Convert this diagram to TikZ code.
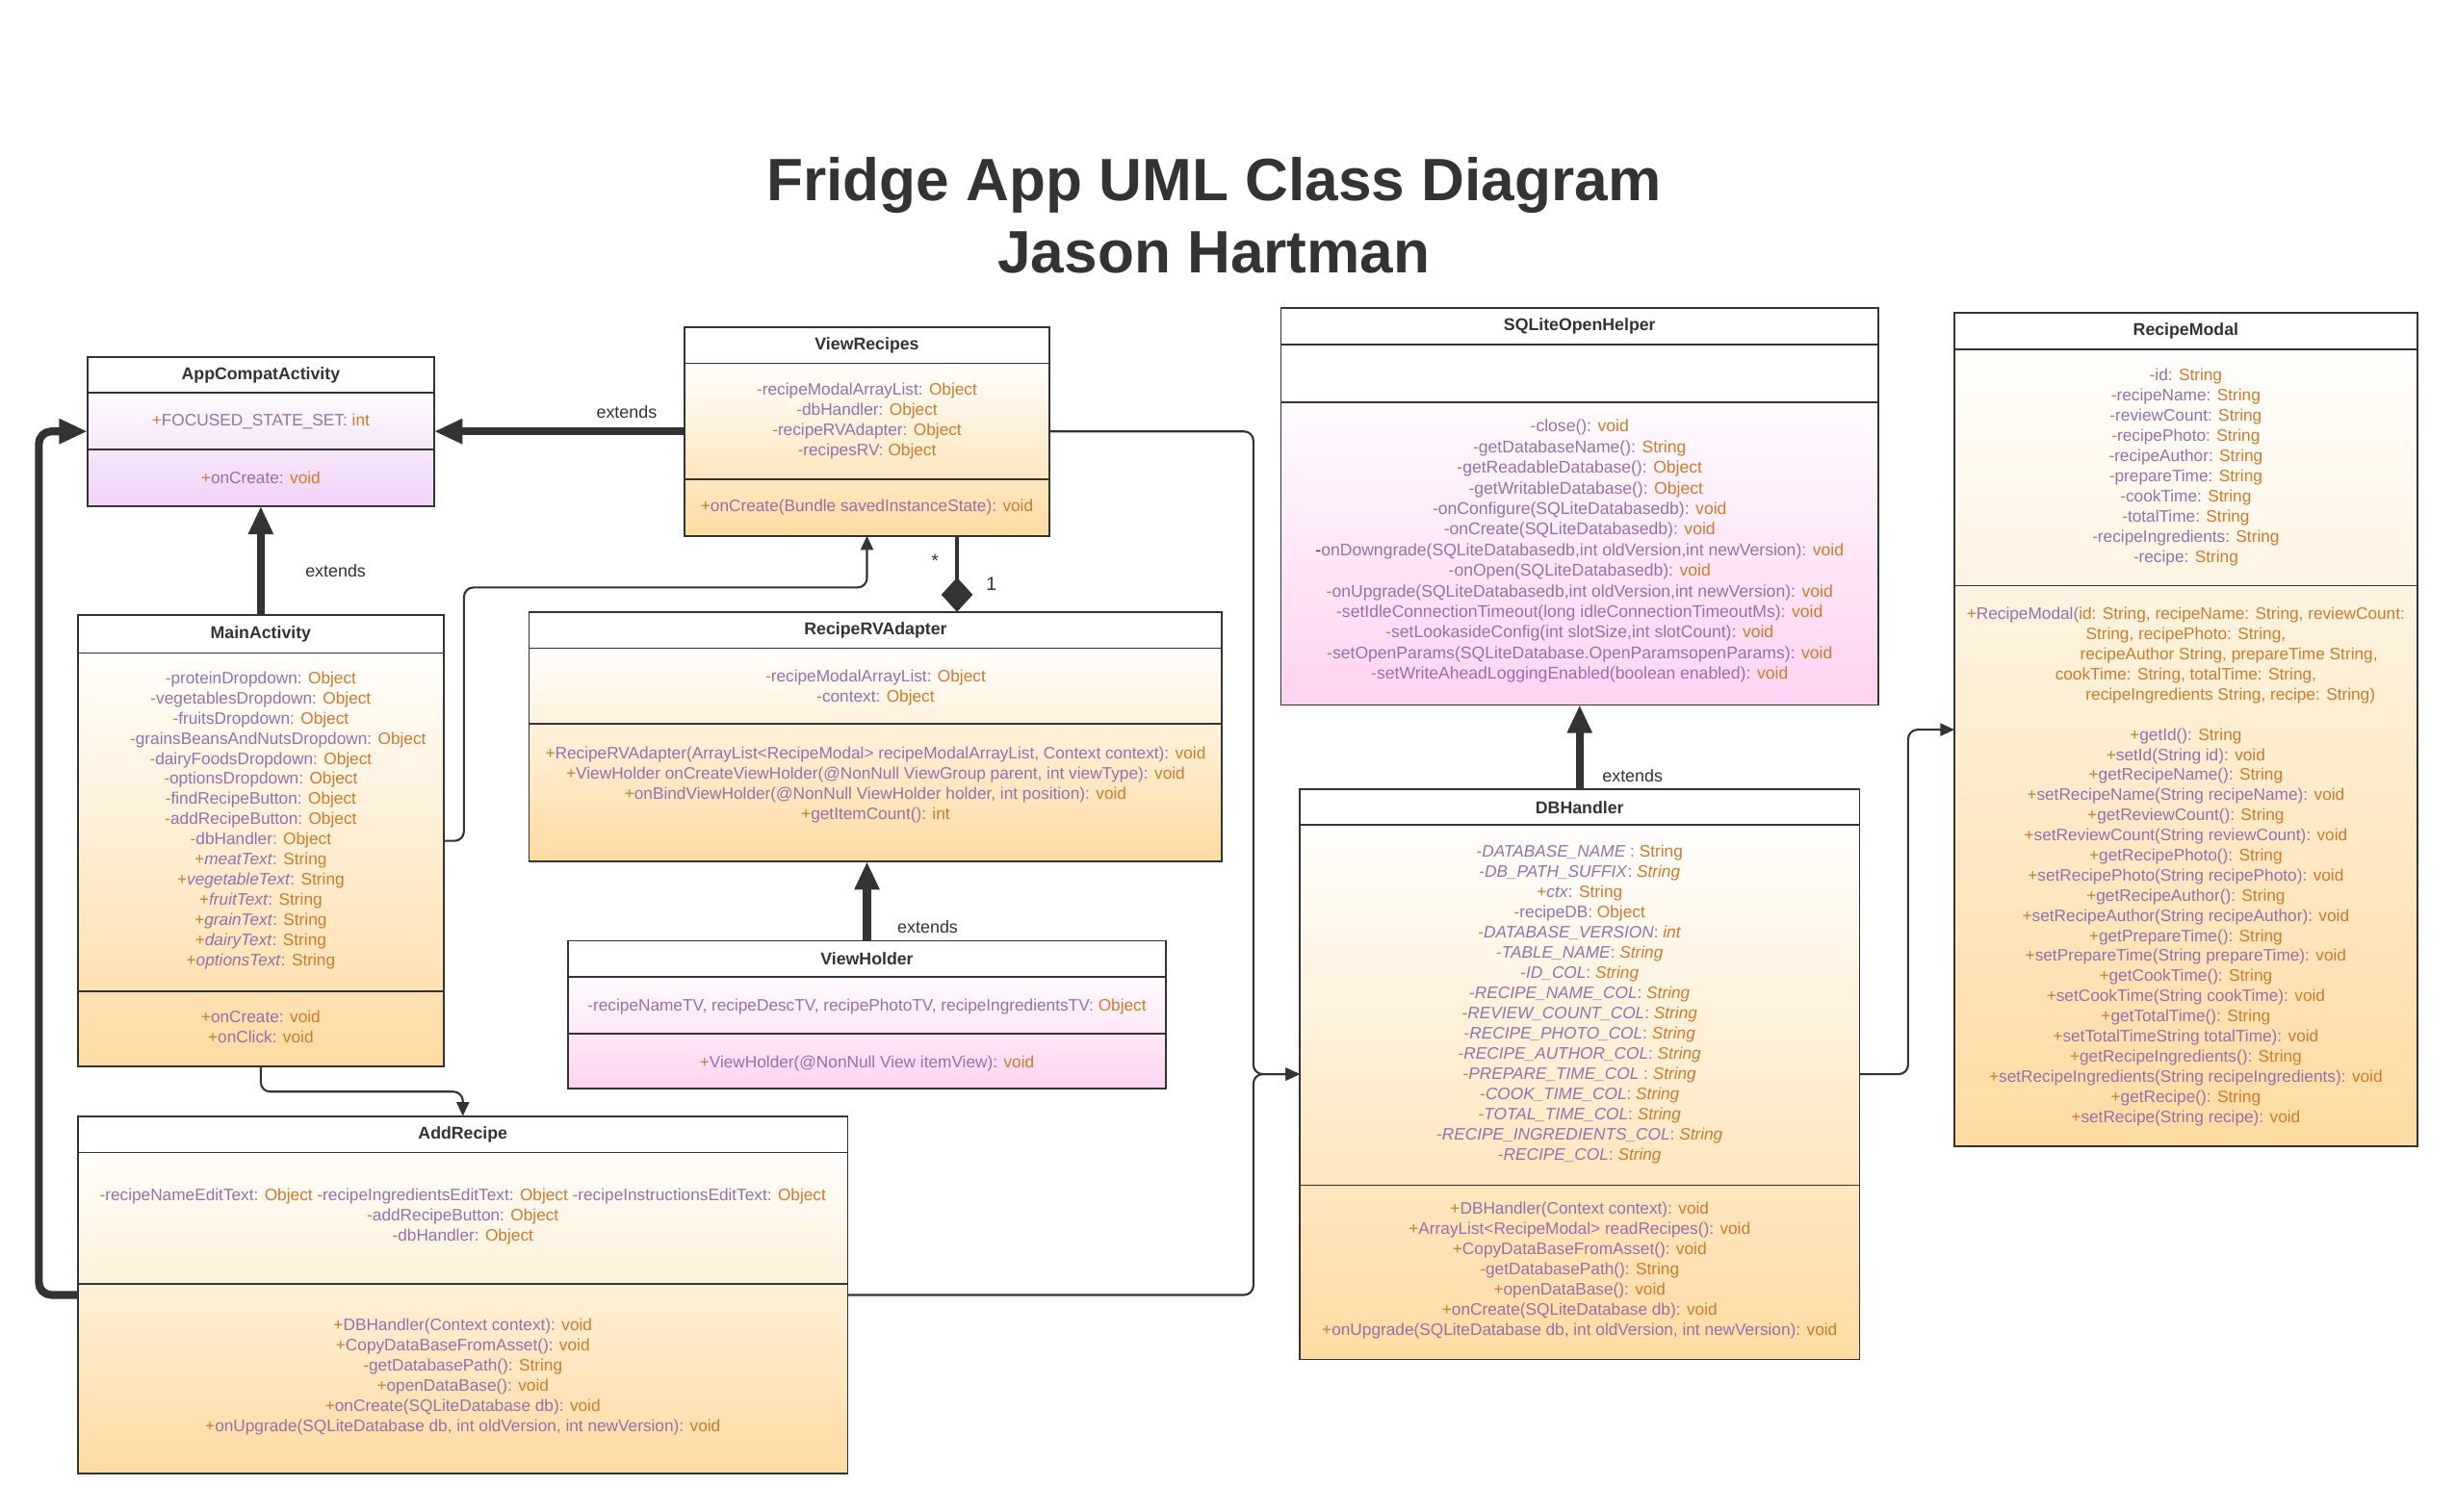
\documentclass[tikz,border=0pt]{standalone}
\usepackage{fontspec}
\setmainfont{Liberation Sans}
\usetikzlibrary{arrows.meta,fit}
\definecolor{ink}{HTML}{333333}
\definecolor{pur}{HTML}{9670A8}
\definecolor{org}{HTML}{CF7A2C}
\definecolor{orT}{HTML}{FFFEFC}
\definecolor{orB}{HTML}{FDDBA2}
\definecolor{pkT}{HTML}{FFFBFE}
\definecolor{pkB}{HTML}{FDD3F2}
\definecolor{lvT}{HTML}{FEFBFF}
\definecolor{lvB}{HTML}{EFD3F7}
\newcommand\M[3]{{\color{org}#1}{\color{pur}#2: }{\color{org}#3}}
% id, x1, y1, x2, y2, sep1, sep2
\newcommand\cls[7]{%
  \node[fit={(#2,#3) (#4,#5)}, inner sep=0pt] (#1) {};
  \draw[boxline] (#2,#6) -- (#4,#6) (#2,#7) -- (#4,#7);
  \draw[boxline] (#1.north west) rectangle (#1.south east);
}
\begin{document}
\begin{tikzpicture}[x=1pt, y=-1pt,
  boxline/.style={draw=ink, line width=1.1pt},
  ctitle/.style={font=\fontsize{10.9}{13}\selectfont\bfseries, text=ink, inner sep=0pt},
  mem/.style={font=\fontsize{10.6}{12.9}\selectfont, align=center, inner sep=0pt},
  lbl/.style={font=\fontsize{11}{13}\selectfont, text=ink, inner sep=0pt},
  thickarrow/.style={draw=ink, line width=5pt, rounded corners=8pt, -{Triangle[length=18pt,width=15pt]}},
  thinarrow/.style={draw=ink, line width=1.3pt, rounded corners=6pt, -{Triangle[length=9pt,width=8pt]}},
  comp/.style={draw=ink, line width=2.2pt, -{Diamond[length=22pt,width=20pt]}}]
\useasboundingbox[fill=white] (0,0) rectangle (1568,965.6);

\node[font=\fontsize{38.2}{46}\selectfont\bfseries, text=ink, align=center, inner sep=0pt] (title) at (775,137.5) {Fridge App UML Class Diagram\\Jason Hartman};

% ---------- AppCompatActivity
\shade[top color=lvT, bottom color=lvB] (56,251) rectangle (277,323);
\cls{ac}{56}{228}{277}{323}{251}{287}
\node[ctitle] (ac-t) at (166.5,239.5) {AppCompatActivity};
\node[mem] (ac-a) at (166.5,269) {\M{+}{FOCUSED\_STATE\_SET}{int}};
\node[mem] (ac-m) at (166.5,305) {\M{+}{onCreate}{void}};

% ---------- ViewRecipes
\shade[top color=orT, bottom color=orB] (437,232) rectangle (670,342);
\cls{vr}{437}{209}{670}{342}{232}{306}
\node[ctitle] (vr-t) at (553.5,220.5) {ViewRecipes};
\node[mem] (vr-a) at (553.5,269) {\M{-}{recipeModalArrayList}{Object}\\\M{-}{dbHandler}{Object}\\\M{-}{recipeRVAdapter}{Object}\\\M{-}{recipesRV}{Object}};
\node[mem] (vr-m) at (553.5,324) {\M{+}{onCreate(Bundle savedInstanceState)}{void}};

% ---------- MainActivity
\shade[top color=orT, bottom color=orB] (50,417) rectangle (283,681);
\cls{ma}{50}{393}{283}{681}{417}{633}
\node[ctitle] (ma-t) at (166.5,405) {MainActivity};
\node[mem] (ma-a) at (166.5,524) {\M{-}{proteinDropdown}{Object}\\\M{-}{vegetablesDropdown}{Object}\\\M{-}{fruitsDropdown}{Object}\\\hspace*{22pt}\M{-}{grainsBeansAndNutsDropdown}{Object}\\\M{-}{dairyFoodsDropdown}{Object}\\\M{-}{optionsDropdown}{Object}\\\M{-}{findRecipeButton}{Object}\\\M{-}{addRecipeButton}{Object}\\\M{-}{dbHandler}{Object}\\\M{+}{\textit{meatText}}{String}\\\M{+}{\textit{vegetableText}}{String}\\\M{+}{\textit{fruitText}}{String}\\\M{+}{\textit{grainText}}{String}\\\M{+}{\textit{dairyText}}{String}\\\M{+}{\textit{optionsText}}{String}};
\node[mem] (ma-m) at (166.5,656) {\M{+}{onCreate}{void}\\\M{+}{onClick}{void}};

% ---------- RecipeRVAdapter
\shade[top color=orT, bottom color=orB] (338,414) rectangle (780,550);
\cls{rva}{338}{391}{780}{550}{414}{462}
\node[ctitle] (rva-t) at (559,402.5) {RecipeRVAdapter};
\node[mem] (rva-a) at (559,439) {\M{-}{recipeModalArrayList}{Object}\\\M{-}{context}{Object}};
\node[mem] (rva-m) at (559,501) {\M{+}{RecipeRVAdapter(ArrayList<RecipeModal> recipeModalArrayList, Context context)}{void}\\\M{+}{ViewHolder onCreateViewHolder(@NonNull ViewGroup parent, int viewType)}{void}\\\M{+}{onBindViewHolder(@NonNull ViewHolder holder, int position)}{void}\\\M{+}{getItemCount()}{int}};

% ---------- ViewHolder
\shade[top color=pkT, bottom color=pkB] (363,624) rectangle (744,695);
\cls{vh}{363}{601}{744}{695}{624}{660}
\node[ctitle] (vh-t) at (553.5,612.5) {ViewHolder};
\node[mem] (vh-a) at (553.5,643) {\M{-}{recipeNameTV, recipeDescTV, recipePhotoTV, recipeIngredientsTV}{Object}};
\node[mem] (vh-m) at (553.5,679) {\M{+}{ViewHolder(@NonNull View itemView)}{void}};

% ---------- AddRecipe
\shade[top color=orT, bottom color=orB] (50,736) rectangle (541,941);
\cls{ar}{50}{713}{541}{941}{736}{820}
\node[ctitle] (ar-t) at (295.5,724.5) {AddRecipe};
\node[mem] (ar-a) at (295.5,777) {\M{-}{recipeNameEditText}{Object} \M{-}{recipeIngredientsEditText}{Object} \M{-}{recipeInstructionsEditText}{Object}\\\M{-}{addRecipeButton}{Object}\\\M{-}{dbHandler}{Object}};
\node[mem] (ar-m) at (295.5,879) {\M{+}{DBHandler(Context context)}{void}\\\M{+}{CopyDataBaseFromAsset()}{void}\\\M{-}{getDatabasePath()}{String}\\\M{+}{openDataBase()}{void}\\\M{+}{onCreate(SQLiteDatabase db)}{void}\\\M{+}{onUpgrade(SQLiteDatabase db, int oldVersion, int newVersion)}{void}};

% ---------- SQLiteOpenHelper
\shade[top color=pkT, bottom color=pkB] (818,257) rectangle (1199,450);
\cls{sq}{818}{197}{1199}{450}{220}{257}
\node[ctitle] (sq-t) at (1008.5,208.5) {SQLiteOpenHelper};
\node[mem, font=\fontsize{10.8}{13.15}\selectfont] (sq-m) at (1008.5,352) {\M{-}{close()}{void}\\\M{-}{getDatabaseName()}{String}\\\M{-}{getReadableDatabase()}{Object}\\\hspace*{8pt}\M{-}{getWritableDatabase()}{Object}\\\M{-}{onConfigure(SQLiteDatabasedb)}{void}\\\M{-}{onCreate(SQLiteDatabasedb)}{void}\\\M{\color{ink}-}{onDowngrade(SQLiteDatabasedb,int oldVersion,int newVersion)}{void}\\\M{-}{onOpen(SQLiteDatabasedb)}{void}\\\M{-}{onUpgrade(SQLiteDatabasedb,int oldVersion,int newVersion)}{void}\\\M{-}{setIdleConnectionTimeout(long idleConnectionTimeoutMs)}{void}\\\M{-}{setLookasideConfig(int slotSize,int slotCount)}{void}\\\M{-}{setOpenParams(SQLiteDatabase.OpenParamsopenParams)}{void}\\\M{-}{setWriteAheadLoggingEnabled(boolean enabled)}{void}};

% ---------- DBHandler
\shade[top color=orT, bottom color=orB] (830,527) rectangle (1187,868);
\cls{db}{830}{504}{1187}{868}{527}{757}
\node[ctitle] (db-t) at (1008.5,515.5) {DBHandler};
\node[mem] (db-a) at (1008.5,641.5) {{\color{org}-}{\color{pur}\textit{DATABASE\_NAME} : }{\color{org}String}\\\M{-}{\textit{DB\_PATH\_SUFFIX}}{\textit{String}}\\\M{+}{\textit{ctx}}{String}\\\M{-}{recipeDB}{Object}\\\M{-}{\textit{DATABASE\_VERSION}}{\textit{int}}\\\M{-}{\textit{TABLE\_NAME}}{\textit{String}}\\\M{-}{\textit{ID\_COL}}{\textit{String}}\\\M{-}{\textit{RECIPE\_NAME\_COL}}{\textit{String}}\\\M{-}{\textit{REVIEW\_COUNT\_COL}}{\textit{String}}\\\M{-}{\textit{RECIPE\_PHOTO\_COL}}{\textit{String}}\\\M{-}{\textit{RECIPE\_AUTHOR\_COL}}{\textit{String}}\\{\color{org}-}{\color{pur}\textit{PREPARE\_TIME\_COL} : }{\color{org}\textit{String}}\\\M{-}{\textit{COOK\_TIME\_COL}}{\textit{String}}\\\M{-}{\textit{TOTAL\_TIME\_COL}}{\textit{String}}\\\M{-}{\textit{RECIPE\_INGREDIENTS\_COL}}{\textit{String}}\\\M{-}{\textit{RECIPE\_COL}}{\textit{String}}};
\node[mem] (db-m) at (1008.5,811.5) {\M{+}{DBHandler(Context context)}{void}\\\M{+}{ArrayList<RecipeModal> readRecipes()}{void}\\\M{+}{CopyDataBaseFromAsset()}{void}\\\M{-}{getDatabasePath()}{String}\\\M{+}{openDataBase()}{void}\\\M{+}{onCreate(SQLiteDatabase db)}{void}\\\M{+}{onUpgrade(SQLiteDatabase db, int oldVersion, int newVersion)}{void}};

% ---------- RecipeModal
\shade[top color=orT, bottom color=orB] (1248,223) rectangle (1543,732);
\cls{rm}{1248}{200}{1543}{732}{223}{374}
\node[ctitle] (rm-t) at (1395.5,211.5) {RecipeModal};
\node[mem] (rm-a) at (1395.5,298.5) {\M{-}{id}{String}\\\M{-}{recipeName}{String}\\\M{-}{reviewCount}{String}\\\M{-}{recipePhoto}{String}\\\M{-}{recipeAuthor}{String}\\\M{-}{prepareTime}{String}\\\M{-}{cookTime}{String}\\\M{-}{totalTime}{String}\\\M{-}{recipeIngredients}{String}\\\M{-}{recipe}{String}};
\node[mem, font=\fontsize{10.6}{12.84}\selectfont] (rm-m) at (1395.5,553.5) {{\color{org}+}{\color{pur}RecipeModal(}{\color{org}id: String, recipeName: String, reviewCount:}\\{\color{org}String, recipePhoto: String,}\\\hspace*{55pt}{\color{org}recipeAuthor String, prepareTime String,}\\{\color{org}cookTime: String, totalTime: String,}\\\hspace*{57pt}{\color{org}recipeIngredients String, recipe: String)}\\[12.84pt]\M{+}{getId()}{String}\\\M{+}{setId(String id)}{void}\\\M{+}{getRecipeName()}{String}\\\M{+}{setRecipeName(String recipeName)}{void}\\\M{+}{getReviewCount()}{String}\\\M{+}{setReviewCount(String reviewCount)}{void}\\\M{+}{getRecipePhoto()}{String}\\\M{+}{setRecipePhoto(String recipePhoto)}{void}\\\M{+}{getRecipeAuthor()}{String}\\\M{+}{setRecipeAuthor(String recipeAuthor)}{void}\\\M{+}{getPrepareTime()}{String}\\\M{+}{setPrepareTime(String prepareTime)}{void}\\\M{+}{getCookTime()}{String}\\\M{+}{setCookTime(String cookTime)}{void}\\\M{+}{getTotalTime()}{String}\\\M{+}{setTotalTimeString totalTime)}{void}\\\M{+}{getRecipeIngredients()}{String}\\\M{+}{setRecipeIngredients(String recipeIngredients)}{void}\\\M{+}{getRecipe()}{String}\\\M{+}{setRecipe(String recipe)}{void}};

% ---------- connectors
\draw[thickarrow] (vr.west) -- (ac.east) node[lbl, pos=0.23, above=6pt] (l1) {extends};
\draw[thickarrow] (ma.north) -- (ac.south) node[lbl, pos=0.41, anchor=west, xshift=26pt] (l2) {extends};
\draw[thickarrow] (ar.west) -- ++(-25,0) |- (ac.west);
\draw[thickarrow] (vh.north) -- (vh.north |- rva.south) node[lbl, pos=0.17, anchor=west, xshift=17pt] (l3) {extends};
\draw[thickarrow] (db.north) -- (sq.south) node[lbl, pos=0.15, anchor=west, xshift=12pt] (l4) {extends};
\draw[comp] ([xshift=57.5pt]vr.south) -- ([xshift=57.5pt]vr.south |- rva.north);
\node[lbl, font=\fontsize{12}{14}\selectfont] (star) at (597,358) {*};
\node[lbl, font=\fontsize{12}{14}\selectfont] (one) at (633,373) {1};
\draw[thinarrow] (ma.east) -- ++(13,0) |- ([yshift=-33pt]vr.south) -- (vr.south);
\draw[thinarrow] (ma.south) -- ++(0,16) -| (ar.north);
\draw[thinarrow] (vr.east) -- ++(130,0) |- (db.west);
\draw[thinarrow] (ar.east) -- ++(259,0) |- (db.west);
\draw[thinarrow] (db.east) -- ++(31,0) |- (rm.west);
\end{tikzpicture}
\end{document}
